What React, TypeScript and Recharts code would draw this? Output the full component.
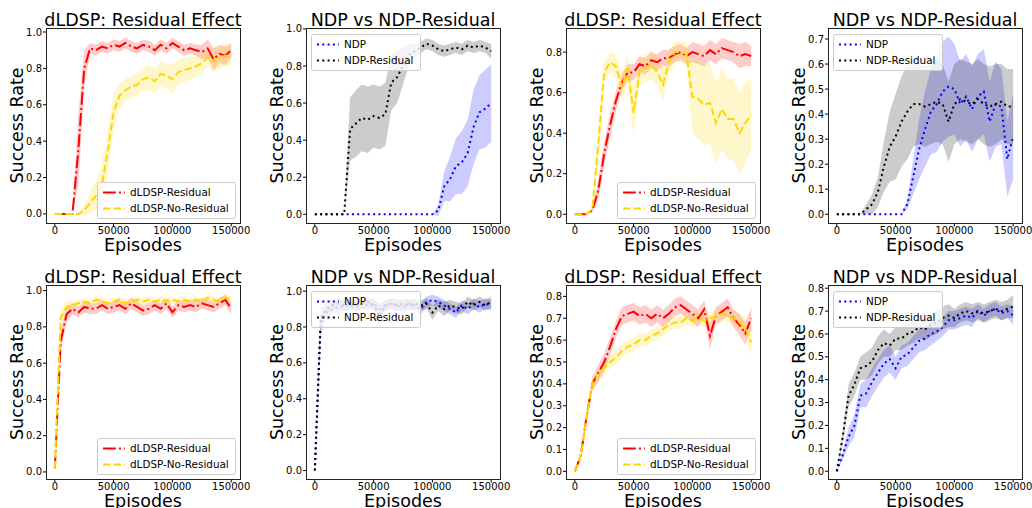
import React from "react";
import { ComposedChart, Area, Line, XAxis, YAxis } from "recharts";

// x grid shared by every panel
const EPISODES = [
  0, 5000, 10000, 15000, 20000, 25000, 30000, 35000, 40000, 45000, 50000, 55000, 60000, 65000, 70000, 75000,
  80000, 85000, 90000, 95000, 100000, 105000, 110000, 115000, 120000, 125000, 130000, 135000, 140000, 145000, 150000,
];
const X_TICKS = [0, 50000, 100000, 150000];

const TICKS_TO_1 = [0, 0.2, 0.4, 0.6, 0.8, 1.0];
const TICKS_TO_08 = [0, 0.2, 0.4, 0.6, 0.8];
const TICKS_TO_07_FINE = [0, 0.1, 0.2, 0.3, 0.4, 0.5, 0.6, 0.7];
const TICKS_TO_08_FINE = [0, 0.1, 0.2, 0.3, 0.4, 0.5, 0.6, 0.7, 0.8];

// top row, panel 1
const T1_RESIDUAL = [0, 0, 0, 0, 0.35, 0.8, 0.91, 0.9, 0.92, 0.91, 0.93, 0.92, 0.94, 0.92, 0.91, 0.93, 0.92, 0.9, 0.93, 0.91, 0.94, 0.92, 0.9, 0.91, 0.9, 0.89, 0.91, 0.85, 0.88, 0.87, 0.9];
const T1_RESIDUAL_SD = [0, 0, 0, 0, 0.2, 0.1, 0.03, 0.03, 0.03, 0.03, 0.03, 0.03, 0.03, 0.03, 0.03, 0.03, 0.03, 0.03, 0.03, 0.03, 0.03, 0.03, 0.03, 0.03, 0.03, 0.04, 0.05, 0.06, 0.05, 0.05, 0.04];
const T1_NO_RESIDUAL = [0, 0, 0, 0, 0, 0.02, 0.06, 0.1, 0.16, 0.34, 0.56, 0.65, 0.68, 0.7, 0.71, 0.74, 0.75, 0.73, 0.77, 0.76, 0.74, 0.78, 0.79, 0.8, 0.81, 0.83, 0.86, 0.84, 0.86, 0.87, 0.87];
const T1_NO_RESIDUAL_SD = [0, 0, 0, 0, 0, 0.03, 0.06, 0.08, 0.1, 0.12, 0.1, 0.07, 0.06, 0.06, 0.06, 0.06, 0.07, 0.07, 0.07, 0.07, 0.08, 0.07, 0.07, 0.06, 0.06, 0.06, 0.05, 0.06, 0.06, 0.06, 0.05];

// top row, panel 2
const T2_NDP = [0, 0, 0, 0, 0, 0, 0, 0, 0, 0, 0, 0, 0, 0, 0, 0, 0, 0, 0, 0, 0, 0.02, 0.15, 0.19, 0.26, 0.28, 0.33, 0.47, 0.55, 0.57, 0.6];
const T2_NDP_SD = [0, 0, 0, 0, 0, 0, 0, 0, 0, 0, 0, 0, 0, 0, 0, 0, 0, 0, 0, 0, 0, 0.03, 0.08, 0.12, 0.15, 0.17, 0.18, 0.2, 0.2, 0.21, 0.21];
const T2_NDP_RESIDUAL = [0, 0, 0, 0, 0, 0, 0.46, 0.49, 0.52, 0.51, 0.53, 0.52, 0.54, 0.71, 0.74, 0.8, 0.86, 0.88, 0.9, 0.92, 0.91, 0.89, 0.88, 0.89, 0.9, 0.89, 0.91, 0.9, 0.91, 0.9, 0.88];
const T2_NDP_RESIDUAL_SD = [0, 0, 0, 0, 0, 0, 0.17, 0.18, 0.18, 0.18, 0.17, 0.17, 0.17, 0.15, 0.14, 0.1, 0.06, 0.04, 0.03, 0.03, 0.03, 0.03, 0.03, 0.03, 0.03, 0.03, 0.03, 0.03, 0.03, 0.03, 0.04];

// top row, panel 3
const T3_RESIDUAL = [0, 0, 0, 0.02, 0.12, 0.3, 0.44, 0.56, 0.65, 0.7, 0.7, 0.74, 0.73, 0.76, 0.75, 0.77, 0.77, 0.79, 0.8, 0.78, 0.8, 0.79, 0.78, 0.81, 0.79, 0.82, 0.81, 0.8, 0.78, 0.79, 0.78];
const T3_RESIDUAL_SD = [0, 0, 0, 0.01, 0.05, 0.06, 0.06, 0.05, 0.04, 0.04, 0.04, 0.04, 0.04, 0.04, 0.04, 0.04, 0.04, 0.04, 0.04, 0.04, 0.05, 0.05, 0.05, 0.05, 0.05, 0.05, 0.05, 0.05, 0.06, 0.06, 0.05];
const T3_NO_RESIDUAL = [0, 0, 0, 0.03, 0.35, 0.7, 0.75, 0.73, 0.63, 0.72, 0.5, 0.7, 0.72, 0.74, 0.7, 0.64, 0.75, 0.8, 0.8, 0.79, 0.58, 0.57, 0.54, 0.55, 0.45, 0.52, 0.47, 0.47, 0.4, 0.45, 0.49];
const T3_NO_RESIDUAL_SD = [0, 0, 0, 0.02, 0.08, 0.05, 0.05, 0.06, 0.07, 0.07, 0.12, 0.07, 0.07, 0.07, 0.07, 0.08, 0.06, 0.05, 0.05, 0.06, 0.18, 0.2, 0.2, 0.2, 0.2, 0.2, 0.2, 0.2, 0.2, 0.2, 0.18];

// top row, panel 4
const T4_NDP = [0, 0, 0, 0, 0, 0, 0, 0, 0, 0, 0, 0, 0.04, 0.15, 0.26, 0.34, 0.41, 0.44, 0.49, 0.51, 0.5, 0.44, 0.47, 0.42, 0.47, 0.49, 0.37, 0.44, 0.43, 0.22, 0.31];
const T4_NDP_SD = [0, 0, 0, 0, 0, 0, 0, 0, 0, 0, 0, 0, 0.02, 0.07, 0.12, 0.15, 0.17, 0.19, 0.2, 0.2, 0.18, 0.17, 0.17, 0.17, 0.17, 0.17, 0.16, 0.17, 0.15, 0.15, 0.17];
const T4_NDP_RESIDUAL = [0, 0, 0, 0, 0, 0.02, 0.04, 0.09, 0.19, 0.27, 0.31, 0.37, 0.41, 0.44, 0.44, 0.43, 0.44, 0.45, 0.44, 0.37, 0.44, 0.46, 0.45, 0.44, 0.46, 0.44, 0.43, 0.44, 0.45, 0.43, 0.43];
const T4_NDP_RESIDUAL_SD = [0, 0, 0, 0, 0, 0.02, 0.04, 0.06, 0.1, 0.14, 0.17, 0.18, 0.19, 0.17, 0.16, 0.16, 0.16, 0.16, 0.16, 0.16, 0.16, 0.16, 0.16, 0.16, 0.16, 0.16, 0.16, 0.16, 0.15, 0.15, 0.15];

// bottom row, panel 1
const B1_RESIDUAL = [0.02, 0.72, 0.87, 0.9, 0.88, 0.91, 0.9, 0.9, 0.92, 0.9, 0.91, 0.92, 0.9, 0.93, 0.91, 0.89, 0.9, 0.92, 0.9, 0.93, 0.88, 0.92, 0.91, 0.92, 0.91, 0.93, 0.92, 0.91, 0.93, 0.95, 0.9];
const B1_RESIDUAL_SD = [0.01, 0.06, 0.04, 0.03, 0.03, 0.03, 0.03, 0.03, 0.03, 0.03, 0.03, 0.03, 0.03, 0.03, 0.03, 0.03, 0.03, 0.03, 0.03, 0.03, 0.03, 0.03, 0.03, 0.03, 0.03, 0.03, 0.03, 0.03, 0.03, 0.03, 0.03];
const B1_NO_RESIDUAL = [0.02, 0.85, 0.91, 0.92, 0.93, 0.94, 0.93, 0.95, 0.94, 0.93, 0.94, 0.95, 0.93, 0.94, 0.95, 0.94, 0.95, 0.94, 0.95, 0.94, 0.95, 0.94, 0.95, 0.94, 0.95, 0.94, 0.96, 0.95, 0.94, 0.96, 0.95];
const B1_NO_RESIDUAL_SD = [0.01, 0.05, 0.03, 0.02, 0.02, 0.02, 0.02, 0.02, 0.02, 0.02, 0.02, 0.02, 0.02, 0.02, 0.02, 0.02, 0.02, 0.02, 0.02, 0.02, 0.02, 0.02, 0.02, 0.02, 0.02, 0.02, 0.02, 0.02, 0.02, 0.02, 0.02];

// bottom row, panel 2
const B2_NDP = [0, 0.82, 0.88, 0.9, 0.91, 0.92, 0.92, 0.91, 0.93, 0.92, 0.93, 0.9, 0.92, 0.93, 0.92, 0.91, 0.93, 0.92, 0.9, 0.94, 0.95, 0.94, 0.92, 0.9, 0.88, 0.92, 0.9, 0.93, 0.91, 0.93, 0.92];
const B2_NDP_SD = [0, 0.05, 0.04, 0.03, 0.03, 0.03, 0.03, 0.03, 0.03, 0.03, 0.03, 0.03, 0.03, 0.03, 0.03, 0.03, 0.03, 0.03, 0.03, 0.03, 0.03, 0.03, 0.03, 0.03, 0.03, 0.03, 0.03, 0.03, 0.03, 0.03, 0.03];
const B2_NDP_RESIDUAL = [0, 0.85, 0.9, 0.92, 0.93, 0.92, 0.93, 0.92, 0.93, 0.94, 0.92, 0.86, 0.92, 0.93, 0.92, 0.93, 0.92, 0.93, 0.92, 0.93, 0.88, 0.92, 0.9, 0.92, 0.91, 0.9, 0.94, 0.92, 0.94, 0.92, 0.94];
const B2_NDP_RESIDUAL_SD = [0, 0.05, 0.03, 0.03, 0.03, 0.03, 0.03, 0.03, 0.03, 0.03, 0.03, 0.07, 0.03, 0.03, 0.03, 0.03, 0.03, 0.03, 0.03, 0.03, 0.04, 0.03, 0.04, 0.03, 0.03, 0.03, 0.03, 0.03, 0.03, 0.03, 0.03];

// bottom row, panel 3
const B3_RESIDUAL = [0, 0.07, 0.25, 0.4, 0.45, 0.5, 0.57, 0.65, 0.71, 0.72, 0.73, 0.71, 0.72, 0.7, 0.72, 0.7, 0.72, 0.75, 0.76, 0.74, 0.72, 0.7, 0.74, 0.62, 0.71, 0.73, 0.75, 0.7, 0.67, 0.63, 0.7];
const B3_RESIDUAL_SD = [0, 0.02, 0.03, 0.03, 0.04, 0.04, 0.04, 0.04, 0.04, 0.04, 0.04, 0.04, 0.04, 0.04, 0.04, 0.04, 0.04, 0.04, 0.04, 0.04, 0.04, 0.04, 0.04, 0.06, 0.04, 0.04, 0.04, 0.04, 0.05, 0.05, 0.05];
const B3_NO_RESIDUAL = [0, 0.07, 0.25, 0.4, 0.44, 0.47, 0.5, 0.52, 0.55, 0.57, 0.58, 0.6, 0.6, 0.62, 0.63, 0.65, 0.67, 0.68, 0.68, 0.7, 0.69, 0.7, 0.69, 0.7, 0.71, 0.72, 0.71, 0.7, 0.68, 0.66, 0.59];
const B3_NO_RESIDUAL_SD = [0, 0.02, 0.03, 0.03, 0.03, 0.03, 0.03, 0.03, 0.03, 0.03, 0.03, 0.03, 0.03, 0.03, 0.03, 0.03, 0.03, 0.03, 0.03, 0.03, 0.03, 0.03, 0.03, 0.03, 0.03, 0.03, 0.03, 0.03, 0.04, 0.04, 0.06];

// bottom row, panel 4
const B4_NDP = [0, 0.07, 0.15, 0.2, 0.33, 0.34, 0.39, 0.43, 0.47, 0.49, 0.45, 0.5, 0.51, 0.54, 0.57, 0.58, 0.6, 0.61, 0.63, 0.66, 0.66, 0.67, 0.68, 0.67, 0.7, 0.68, 0.7, 0.71, 0.69, 0.7, 0.68];
const B4_NDP_SD = [0, 0.02, 0.04, 0.05, 0.05, 0.06, 0.06, 0.06, 0.06, 0.06, 0.05, 0.05, 0.05, 0.05, 0.05, 0.05, 0.05, 0.04, 0.04, 0.04, 0.04, 0.04, 0.04, 0.04, 0.03, 0.03, 0.03, 0.03, 0.03, 0.03, 0.04];
const B4_NDP_RESIDUAL = [0, 0.15, 0.33, 0.38, 0.45, 0.46, 0.48, 0.53, 0.56, 0.55, 0.58, 0.58, 0.6, 0.61, 0.63, 0.62, 0.64, 0.65, 0.67, 0.68, 0.67, 0.69, 0.7, 0.69, 0.7, 0.69, 0.7, 0.71, 0.7, 0.71, 0.72];
const B4_NDP_RESIDUAL_SD = [0, 0.03, 0.05, 0.05, 0.05, 0.06, 0.06, 0.06, 0.06, 0.05, 0.05, 0.05, 0.05, 0.05, 0.05, 0.05, 0.05, 0.05, 0.05, 0.05, 0.04, 0.04, 0.04, 0.04, 0.04, 0.04, 0.04, 0.04, 0.04, 0.04, 0.05];

const FONT = "DejaVu Sans";
const BOX_W = 194;
const Y_AXIS_W = 34;
const X_AXIS_H = 22;
const PAD_T = 8;
const PAD_R = 26;

const RESIDUAL = { color: "#ff0000", dash: "12.8 3.2 2 3.2" };
const NO_RESIDUAL = { color: "#ffd700", dash: "7.4 3.2" };
const NDP = { color: "#0000ff", dash: "2 3.3" };
const NDP_RES = { color: "#000000", dash: "2 3.3" };

type Series = { name: string; mean: number[]; sd: number[]; color: string; dash: string };
type PanelDef = {
  title: string;
  left: number;
  top: number;
  h: number;
  yDomain: [number, number];
  yTicks: number[];
  legend: "lr" | "ul";
  series: Series[];
};

const dldsp = (res: number[], resSd: number[], nores: number[], noresSd: number[]): Series[] => [
  { name: "dLDSP-Residual", mean: res, sd: resSd, ...RESIDUAL },
  { name: "dLDSP-No-Residual", mean: nores, sd: noresSd, ...NO_RESIDUAL },
];
const ndp = (a: number[], aSd: number[], b: number[], bSd: number[]): Series[] => [
  { name: "NDP", mean: a, sd: aSd, ...NDP },
  { name: "NDP-Residual", mean: b, sd: bSd, ...NDP_RES },
];

const PANELS: PanelDef[] = [
  { title: "dLDSP: Residual Effect", left: 46, top: 28, h: 195, yDomain: [-0.05, 1.022], yTicks: TICKS_TO_1, legend: "lr",
    series: dldsp(T1_RESIDUAL, T1_RESIDUAL_SD, T1_NO_RESIDUAL, T1_NO_RESIDUAL_SD) },
  { title: "NDP vs NDP-Residual", left: 306, top: 28, h: 195, yDomain: [-0.047, 1.005], yTicks: TICKS_TO_1, legend: "ul",
    series: ndp(T2_NDP, T2_NDP_SD, T2_NDP_RESIDUAL, T2_NDP_RESIDUAL_SD) },
  { title: "dLDSP: Residual Effect", left: 566, top: 28, h: 195, yDomain: [-0.043, 0.919], yTicks: TICKS_TO_08, legend: "lr",
    series: dldsp(T3_RESIDUAL, T3_RESIDUAL_SD, T3_NO_RESIDUAL, T3_NO_RESIDUAL_SD) },
  { title: "NDP vs NDP-Residual", left: 828, top: 28, h: 195, yDomain: [-0.035, 0.744], yTicks: TICKS_TO_07_FINE, legend: "ul",
    series: ndp(T4_NDP, T4_NDP_SD, T4_NDP_RESIDUAL, T4_NDP_RESIDUAL_SD) },
  { title: "dLDSP: Residual Effect", left: 46, top: 285, h: 194, yDomain: [-0.039, 1.031], yTicks: TICKS_TO_1, legend: "lr",
    series: dldsp(B1_RESIDUAL, B1_RESIDUAL_SD, B1_NO_RESIDUAL, B1_NO_RESIDUAL_SD) },
  { title: "NDP vs NDP-Residual", left: 306, top: 285, h: 194, yDomain: [-0.047, 1.034], yTicks: TICKS_TO_1, legend: "ul",
    series: ndp(B2_NDP, B2_NDP_SD, B2_NDP_RESIDUAL, B2_NDP_RESIDUAL_SD) },
  { title: "dLDSP: Residual Effect", left: 566, top: 285, h: 194, yDomain: [-0.035, 0.852], yTicks: TICKS_TO_08_FINE, legend: "lr",
    series: dldsp(B3_RESIDUAL, B3_RESIDUAL_SD, B3_NO_RESIDUAL, B3_NO_RESIDUAL_SD) },
  { title: "NDP vs NDP-Residual", left: 828, top: 285, h: 194, yDomain: [-0.034, 0.814], yTicks: TICKS_TO_08_FINE, legend: "ul",
    series: ndp(B4_NDP, B4_NDP_SD, B4_NDP_RESIDUAL, B4_NDP_RESIDUAL_SD) },
];

const tickStyle = { fontSize: 10, fill: "#000", fontFamily: FONT };

function PanelChart({ p }: { p: PanelDef }) {
  const data = EPISODES.map((ep, i) => {
    const row: Record<string, any> = { ep };
    p.series.forEach((s, k) => {
      row[`m${k}`] = s.mean[i];
      row[`b${k}`] = [s.mean[i] - s.sd[i], s.mean[i] + s.sd[i]];
    });
    return row;
  });
  return (
    <div style={{ position: "absolute", left: p.left - Y_AXIS_W, top: p.top - PAD_T }}>
      <ComposedChart
        width={Y_AXIS_W + BOX_W + PAD_R}
        height={PAD_T + p.h + X_AXIS_H}
        data={data}
        margin={{ top: PAD_T, right: PAD_R, bottom: 0, left: 0 }}
      >
        <XAxis
          dataKey="ep"
          type="number"
          domain={[-7500, 157500]}
          allowDataOverflow
          ticks={X_TICKS}
          interval={0}
          height={X_AXIS_H}
          axisLine={false}
          tickLine={{ stroke: "#000" }}
          tickSize={3.5}
          tickMargin={0}
          tick={tickStyle}
        />
        <YAxis
          type="number"
          domain={p.yDomain}
          allowDataOverflow
          ticks={p.yTicks}
          interval={0}
          width={Y_AXIS_W}
          axisLine={false}
          tickLine={{ stroke: "#000" }}
          tickSize={3}
          tickMargin={1}
          tick={tickStyle}
          tickFormatter={(v: number) => v.toFixed(1)}
        />
        {p.series.map((s, k) => (
          <Area
            key={`b${k}`}
            type="linear"
            dataKey={`b${k}`}
            stroke="none"
            fill={s.color}
            fillOpacity={0.2}
            isAnimationActive={false}
          />
        ))}
        {p.series.map((s, k) => (
          <Line
            key={`m${k}`}
            type="linear"
            dataKey={`m${k}`}
            stroke={s.color}
            strokeWidth={2}
            strokeDasharray={s.dash}
            dot={false}
            activeDot={false}
            isAnimationActive={false}
          />
        ))}
      </ComposedChart>
    </div>
  );
}

function PanelDecor({ p }: { p: PanelDef }) {
  const right = p.left + BOX_W;
  const bottom = p.top + p.h;
  const cx = p.left + BOX_W / 2;
  const cy = p.top + p.h / 2;
  const lw = p.legend === "lr" ? 138 : 109;
  const lx = p.legend === "lr" ? right - 5 - lw : p.left + 5;
  const ly = p.legend === "lr" ? bottom - 5 - 36 : p.top + 6;
  return (
    <g fontFamily={FONT} fill="#000">
      <rect x={p.left + 0.5} y={p.top + 0.5} width={BOX_W} height={p.h} fill="none" stroke="#222" strokeWidth={1} />
      <text x={cx} y={p.top - 2} textAnchor="middle" fontSize={17.5}>{p.title}</text>
      <text x={p.left - 23} y={cy} textAnchor="middle" fontSize={17.5} transform={`rotate(-90 ${p.left - 23} ${cy})`}>
        Success Rate
      </text>
      <text x={cx} y={bottom + 27.5} textAnchor="middle" fontSize={17.5}>Episodes</text>
      <rect x={lx + 0.5} y={ly + 0.5} width={lw} height={36} rx={2} fill="#fff" fillOpacity={0.8} stroke="#cccccc" />
      {p.series.map((s, k) => (
        <g key={s.name}>
          <line x1={lx + 6} x2={lx + 28} y1={ly + 10.5 + 16 * k} y2={ly + 10.5 + 16 * k} stroke={s.color} strokeWidth={2} strokeDasharray={s.dash} />
          <text x={lx + 33} y={ly + 14.2 + 16 * k} fontSize={10.4}>{s.name}</text>
        </g>
      ))}
    </g>
  );
}

export default function App() {
  return (
    <div style={{ position: "absolute", left: 0, top: 0, width: 1032, height: 508, background: "#fff", overflow: "hidden" }}>
      {PANELS.map((p, i) => (
        <PanelChart key={i} p={p} />
      ))}
      <svg width={1032} height={508} style={{ position: "absolute", left: 0, top: 0, pointerEvents: "none" }}>
        {PANELS.map((p, i) => (
          <PanelDecor key={i} p={p} />
        ))}
      </svg>
    </div>
  );
}
